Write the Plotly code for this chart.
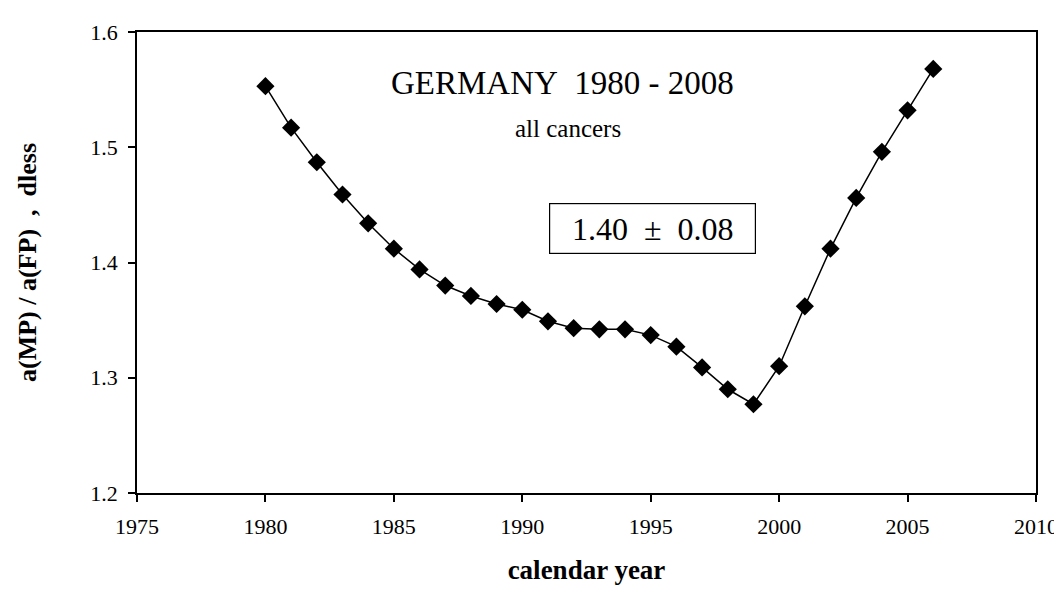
import plotly.graph_objects as go

years = list(range(1980, 2007))
ratio = [1.553, 1.517, 1.487, 1.459, 1.434, 1.412, 1.394, 1.380, 1.371, 1.364,
         1.359, 1.349, 1.343, 1.342, 1.342, 1.337, 1.327, 1.309, 1.290, 1.277,
         1.310, 1.362, 1.412, 1.456, 1.496, 1.532, 1.568]

NB = "\u00a0"
title_text = "GERMANY" + NB * 2 + "1980 - 2008"
subtitle_text = "all cancers"
box_text = "1.40" + NB * 2 + "±" + NB * 2 + "0.08"
x_title = "calendar year"
y_title = "a(MP) / a(FP)" + NB * 2 + "," + NB * 2 + "dless"

FONT = "Liberation Serif, Times New Roman, serif"

fig = go.Figure()
fig.add_trace(go.Scatter(
    x=years, y=ratio, mode="lines+markers",
    line=dict(color="black", width=1.5),
    marker=dict(symbol="diamond", size=14, color="black"),
    showlegend=False,
))

fig.update_layout(
    width=1062, height=598,
    margin=dict(l=129, r=30, t=16, b=113),
    paper_bgcolor="white", plot_bgcolor="white",
    font=dict(family=FONT, color="black", size=22),
)
fig.update_xaxes(
    range=[1975, 2010], dtick=5, tick0=1975,
    showgrid=False, zeroline=False,
    showline=True, linecolor="black", linewidth=1.5, mirror=True,
    ticks="outside", ticklen=7, tickcolor="black", tickwidth=1.5,
    ticklabelstandoff=6,
    tickfont=dict(family=FONT, size=22),
    title=dict(text="<b>" + x_title + "</b>", font=dict(family=FONT, size=27), standoff=22),
)
fig.update_yaxes(
    range=[1.2, 1.6], dtick=0.1, tick0=1.2, tickformat=".1f",
    showgrid=False, zeroline=False,
    showline=True, linecolor="black", linewidth=1.5, mirror=True,
    ticks="outside", ticklen=7, tickcolor="black", tickwidth=1.5,
    ticklabelstandoff=6,
    tickfont=dict(family=FONT, size=22),
    title=dict(text="<b>" + y_title + "</b>", font=dict(family=FONT, size=26), standoff=46),
)

fig.add_annotation(x=1991.55, y=1.5555, xref="x", yref="y", text=title_text,
                   showarrow=False, font=dict(family=FONT, size=33))
fig.add_annotation(x=1991.78, y=1.5165, xref="x", yref="y", text=subtitle_text,
                   showarrow=False, font=dict(family=FONT, size=25))
fig.add_annotation(x=1995.06, y=1.4298, xref="x", yref="y", text=box_text,
                   showarrow=False, font=dict(family=FONT, size=32),
                   width=203, height=47, borderpad=1,
                   bordercolor="black", borderwidth=1.2, bgcolor="white")

fig.write_html("out.html")
